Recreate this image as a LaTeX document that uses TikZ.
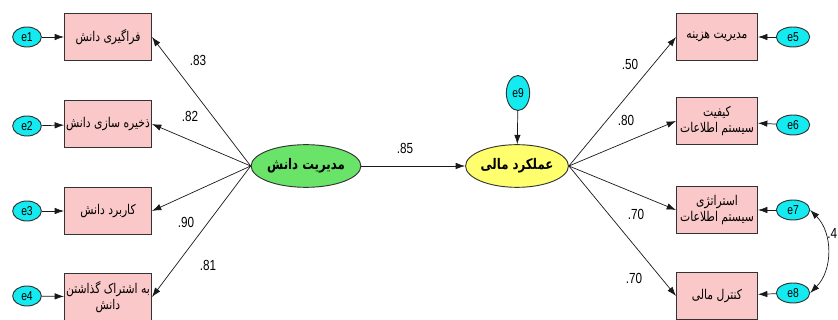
\documentclass[tikz,border=0pt]{standalone}
\usepackage{fontspec}
\setmainfont[FakeStretch=0.8]{Liberation Sans}
\newfontfamily\farsi[Script=Arabic,FakeStretch=0.8]{DejaVu Sans}
\TeXXeTstate=1
\usetikzlibrary{positioning,shapes,arrows,arrows.meta}
\newcommand{\fatext}[1]{{\farsi\beginR #1\endR}}
\definecolor{errcyan}{RGB}{20,235,240}
\definecolor{indpink}{RGB}{250,200,200}
\definecolor{latgreen}{RGB}{105,228,105}
\definecolor{latyellow}{RGB}{255,255,110}

\begin{document}
\begin{tikzpicture}
        [x=0.03cm, y=-0.03cm, >={Latex[length=8pt,width=5.5pt]},
        font=\fontsize{12.5}{14}\selectfont,
        ind/.style={draw=black!80, fill=indpink, thick,
        minimum width=2.61cm, minimum height=1.41cm, inner sep=0pt,
        align=center, font=\farsi\fontsize{11.5}{13}\selectfont},
        err/.style={ellipse, draw=black!80, fill=errcyan, thick,
        minimum width=0.86cm, minimum height=0.6cm, inner sep=0pt,
        font=\fontsize{11}{11}\selectfont},
        lat/.style={ellipse, draw=black!80, thick,
        minimum width=2.9cm, minimum height=1.28cm, inner sep=0pt,
        font=\farsi\bfseries\fontsize{12.5}{14}\selectfont},
        ln/.style={->, draw=black!90, semithick},
        coef/.style={inner sep=1pt}]
        \useasboundingbox (0,0) rectangle (838,320);
        % latent variables
        \node[lat, fill=latgreen] (km) at (306,166) {\fatext{مدیریت دانش}};
        \node[lat, fill=latyellow] (fp) at (517,166) {\fatext{عملکرد مالی}};
        \node[err, minimum width=0.7cm, minimum height=1.05cm] (e9) at (518,93) {e9};
        % left indicators
        \node[ind] (acq) at (108,37) {\fatext{فراگیری دانش}};
        \node[ind] (sto) at (108,124) {\fatext{ذخیره سازی دانش}};
        \node[ind] (app) at (108,211) {\fatext{کاربرد دانش}};
        \node[ind] (sha) at (108,297) {\fatext{به اشتراک گذاشتن}\\\fatext{دانش}};
        \node[err] (e1) at (27,37) {e1};
        \node[err] (e2) at (27,126) {e2};
        \node[err] (e3) at (27,211) {e3};
        \node[err] (e4) at (27,296) {e4};
        % right indicators
        \node[ind, minimum width=2.43cm] (cost) at (717,37) {\fatext{مدیریت هزینه}};
        \node[ind, minimum width=2.43cm] (qual) at (717,121) {\fatext{کیفیت}\\\fatext{سیستم اطلاعات}};
        \node[ind, minimum width=2.43cm] (strat) at (717,210) {\fatext{استراتژی}\\\fatext{سیستم اطلاعات}};
        \node[ind, minimum width=2.43cm] (ctrl) at (717,296) {\fatext{کنترل مالی}};
        \node[err, minimum width=1cm] (e5) at (793,37) {e5};
        \node[err, minimum width=1cm] (e6) at (793,125) {e6};
        \node[err, minimum width=1cm] (e7) at (793,210) {e7};
        \node[err, minimum width=1cm] (e8) at (793,293) {e8};
        % paths
        \foreach \i/\b in {1/acq,2/sto,3/app,4/sha}
            \draw[ln] (e\i) -- (\b);
        \foreach \i/\b in {5/cost,6/qual,7/strat,8/ctrl}
            \draw[ln] (e\i) -- (\b);
        \foreach \b in {acq,sto,app,sha}
            \draw[ln] (km.west) -- (\b.east);
        \foreach \b in {cost,qual,strat,ctrl}
            \draw[ln] (fp.east) -- (\b.west);
        \draw[ln] (km) -- (fp);
        \draw[ln] (e9) -- (fp);
        \draw[<->, draw=black!90, semithick] (e7.east) to[bend left=45] (e8.east);
        % coefficients
        \node[coef] (c1) at (198,60) {.83};
        \node[coef] (c2) at (190,116) {.82};
        \node[coef] (c3) at (186,222) {.90};
        \node[coef] (c4) at (208,265) {.81};
        \node[coef] (c0) at (405,148) {.85};
        \node[coef] (c5) at (630,64) {.50};
        \node[coef] (c6) at (626,120) {.80};
        \node[coef] (c7) at (636,214) {.70};
        \node[coef] (c8) at (634,278) {.70};
        \node[coef, anchor=west] (c9) at (826,233) {.4};
\end{tikzpicture}
\end{document}
